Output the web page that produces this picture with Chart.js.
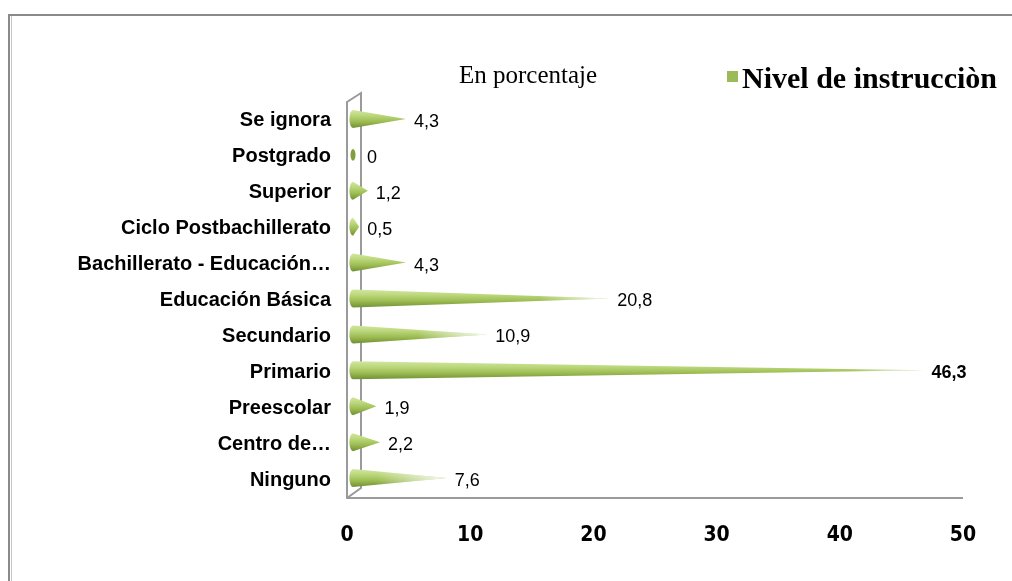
<!DOCTYPE html>
<html>
<head>
<meta charset="utf-8">
<script src="https://cdn.jsdelivr.net/npm/chart.js@4/dist/chart.umd.min.js"></script>
<style>
html,body{margin:0;padding:0;background:#fff;}
#wrap{width:1012px;height:581px;position:relative;}
</style>
</head>
<body>
<div id="wrap"><canvas id="c" width="1012" height="581"></canvas></div>
<script>
const categories = ['Se ignora','Postgrado','Superior','Ciclo Postbachillerato','Bachillerato - Educación…','Educación Básica','Secundario','Primario','Preescolar','Centro de…','Ninguno'];
const values = [4.3, 0, 1.2, 0.5, 4.3, 20.8, 10.9, 46.3, 1.9, 2.2, 7.6];
const xTicks = [0, 10, 20, 30, 40, 50];
const seriesName = 'Nivel de instrucciòn';
const chartTitle = 'En porcentaje';

const GREEN = '#9bbb59';
const DX = 6, DY = -2;

function drawCone(ctx, x0, x1, yc, h) {
  const r = h / 2;
  const len = x1 - x0;
  ctx.save();
  const g = ctx.createLinearGradient(0, yc - r, 0, yc + r);
  g.addColorStop(0, '#d2e6a2');
  g.addColorStop(0.3, '#bcd87c');
  g.addColorStop(0.65, '#9cbc52');
  g.addColorStop(1, '#718f35');
  if (len < 1) {
    ctx.beginPath();
    ctx.ellipse(x0, yc, 2.5, r * 0.65, 0, 0, Math.PI * 2);
    ctx.fillStyle = '#7f9e3c';
    ctx.fill();
    ctx.restore();
    return;
  }
  ctx.beginPath();
  ctx.moveTo(x0, yc - r);
  ctx.lineTo(x1, yc);
  ctx.lineTo(x0, yc + r);
  ctx.ellipse(x0, yc, Math.min(4, r * 0.4), r, 0, Math.PI / 2, Math.PI * 1.5);
  ctx.closePath();
  ctx.fillStyle = g;
  ctx.fill();
  if (len > 60) {
    const f = ctx.createLinearGradient(x1 - 70, 0, x1, 0);
    f.addColorStop(0, 'rgba(255,255,255,0)');
    f.addColorStop(1, 'rgba(255,255,255,0.9)');
    ctx.beginPath();
    ctx.moveTo(x1 - 70, yc - r * 70 / len);
    ctx.lineTo(x1 + 1, yc);
    ctx.lineTo(x1 - 70, yc + r * 70 / len);
    ctx.closePath();
    ctx.fillStyle = f;
    ctx.fill();
  }
  ctx.restore();
}

const conePlugin = {
  id: 'cones',
  beforeDraw(chart) {
    const ctx = chart.ctx, ca = chart.chartArea;
    ctx.save();
    ctx.fillStyle = '#fff';
    ctx.fillRect(0, 0, chart.width, chart.height);
    ctx.strokeStyle = '#8a8a8a';
    ctx.lineWidth = 2;
    ctx.beginPath();
    ctx.moveTo(9, 600); ctx.lineTo(9, 15); ctx.lineTo(1100, 15);
    ctx.stroke();
    ctx.strokeStyle = '#c8c8c8';
    ctx.lineWidth = 1;
    ctx.beginPath(); ctx.moveTo(11.5, 600); ctx.lineTo(11.5, 16); ctx.stroke();
    const L = ca.left, T = ca.top, B = ca.bottom;
    ctx.strokeStyle = '#9a9a9a';
    ctx.lineWidth = 2;
    ctx.beginPath();
    ctx.moveTo(L, B); ctx.lineTo(L, T - 1); ctx.lineTo(L + 14, T - 10); ctx.lineTo(L + 14, B - 10); ctx.lineTo(L, B);
    ctx.moveTo(L - 1, B); ctx.lineTo(ca.right, B);
    ctx.stroke();
    ctx.restore();
  },
  beforeDatasetDraw(chart, args) {
    const ctx = chart.ctx;
    args.meta.data.forEach((bar) => {
      const p = bar.getProps(['x', 'y', 'base', 'height'], true);
      drawCone(ctx, p.base + DX, p.x + DX, p.y + DY, p.height);
    });
    return false;
  },
  afterDatasetsDraw(chart) {
    const ctx = chart.ctx;
    const meta = chart.getDatasetMeta(0);
    const ds = chart.data.datasets[0].data;
    const maxV = Math.max(...ds);
    ctx.save();
    ctx.textBaseline = 'middle';
    ctx.textAlign = 'left';
    ctx.fillStyle = '#000';
    meta.data.forEach((bar, i) => {
      const p = bar.getProps(['x', 'y'], true);
      const v = ds[i];
      ctx.font = (v === maxV ? 'bold ' : '') + '18px "Liberation Sans", Arial, sans-serif';
      const txt = v.toFixed(1).replace('.', ',').replace(/,0$/, '');
      ctx.fillText(txt, Math.max(p.x + DX + 8, 367), p.y + 1);
    });
    ctx.restore();
  },
  afterDraw(chart) {
    const ctx = chart.ctx;
    ctx.save();
    ctx.fillStyle = '#000';
    ctx.textBaseline = 'alphabetic';
    ctx.textAlign = 'center';
    ctx.font = '25px "Liberation Serif", "Times New Roman", serif';
    ctx.fillText(chartTitle, 528, 83);
    ctx.fillStyle = GREEN;
    ctx.fillRect(727, 71, 11, 11);
    ctx.fillStyle = '#000';
    ctx.textAlign = 'left';
    ctx.font = 'bold 30px "Liberation Serif", "Times New Roman", serif';
    ctx.fillText(seriesName, 742, 88);
    ctx.restore();
  }
};

new Chart(document.getElementById('c'), {
  type: 'bar',
  data: {
    labels: categories,
    datasets: [{ label: seriesName, data: values, backgroundColor: GREEN, barThickness: 18 }]
  },
  plugins: [conePlugin],
  options: {
    indexAxis: 'y',
    responsive: false,
    animation: false,
    devicePixelRatio: 1,
    layout: { padding: { top: 103, right: 49, left: 0, bottom: 0 } },
    plugins: { legend: { display: false }, title: { display: false }, tooltip: { enabled: false } },
    scales: {
      x: {
        min: 0, max: 50,
        afterFit(s) { s.height = 83; },
        afterBuildTicks(s) { s.ticks = xTicks.map(v => ({ value: v })); },
        grid: { display: false, drawTicks: false },
        border: { display: false },
        ticks: {
          padding: 25,
          color: '#000',
          font: { family: '"Liberation Sans Narrow", "DejaVu Sans Condensed", sans-serif', size: 21, weight: 'bold' }
        }
      },
      y: {
        afterFit(s) { s.width = 347; },
        grid: { display: false, drawTicks: false },
        border: { display: false },
        ticks: {
          padding: 16,
          color: '#000',
          autoSkip: false,
          font: { family: '"Liberation Sans", Arial, sans-serif', size: 20, weight: 'bold' }
        }
      }
    }
  }
});
</script>
</body>
</html>
